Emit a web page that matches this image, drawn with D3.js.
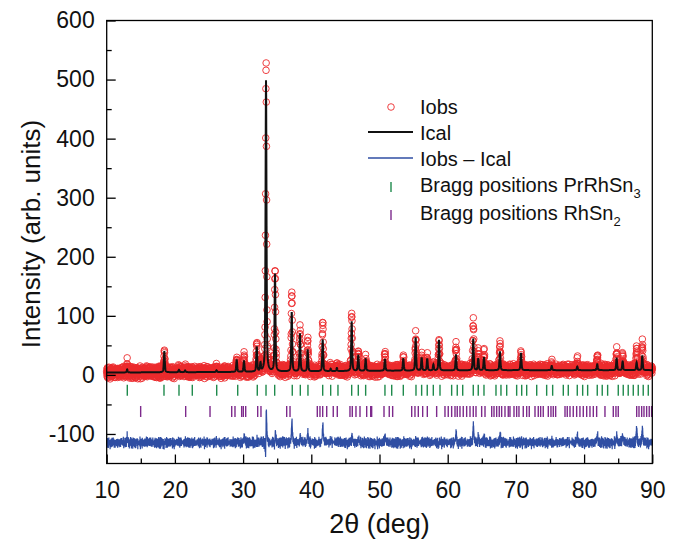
<!DOCTYPE html>
<html lang="en">
<head>
<meta charset="UTF-8">
<title>PrRhSn3 Rietveld refinement</title>
<script src="https://d3js.org/d3.v7.min.js"></script>
<style>
  body { margin: 0; background: #fff; }
  svg { display: block; font-family: Arial, "Liberation Sans", sans-serif; }
</style>
</head>
<body>
<script>
// ---- data ----
const xTicks = [10, 20, 30, 40, 50, 60, 70, 80, 90];
const yTicks = [-100, 0, 100, 200, 300, 400, 500, 600];

// reflections seen in the pattern: 2theta, calculated height, observed top
const peakPos  = [13.0, 18.45, 20.6, 21.5, 26.1, 29.06, 30.13, 32.0, 32.55, 33.36, 34.68, 37.13, 38.34, 39.47, 41.67, 42.84, 43.75, 45.92, 46.89, 47.97, 50.8, 53.49, 55.3, 56.18, 57.0, 57.9, 58.72, 61.21, 63.75, 64.48, 65.32, 67.66, 70.75, 75.25, 79.0, 81.93, 84.77, 85.65, 87.7, 88.53];
const peakCalc = [5, 35, 4, 3, 3, 21, 18, 42, 14, 493, 165, 100, 64, 36, 53, 4, 5, 84, 26, 20, 20, 20, 56, 22, 20, 10, 52, 26, 53, 20, 22, 32, 28, 7, 6, 10, 20, 15, 13, 24];
const peakObs  = [14, 34, 6, 5, 6, 22, 28, 46, 17, 522, 175, 136, 72, 52, 82, 7, 9, 95, 32, 20, 29, 20, 58, 25, 23, 11, 50, 42, 82, 31, 30, 44, 27, 9, 15, 24, 31, 27, 37, 46];

const bgAngle = [10, 30, 50, 70, 90];
const bgLevel = [4, 5, 7, 8, 8];

// scatter of the observed counts about the fit (arb. units)
const noiseA = [3, -5, 6, -2, 0, 4, -6, 2, 5, -3, -1, 6, -4, 1, -6, 3, 5, -2, -5, 0, 4, -3, 6, -1, 2, -6, 1, 5, -4, 3, -2, 0, 6, -5, 2, -1, 4];
const noiseB = [-2, 4, 0, -5, 3, 5, -3, 1, -4, 6, -1, 2, -6, 4, 0, -3, 5, -2, 3, -5, 1, 6, -4, 2, -1, -6, 3, 0, 5, -2, 4, -4, 1, -3, 6, -1, 2, -5, 0, 3, -6, 5, -2, 1, 4, -3, 0];

const braggPrRhSn3 = [13.02, 18.40, 20.60, 22.55, 26.13, 29.21, 32.08, 33.36, 34.63, 37.21, 38.39, 39.51, 41.67, 42.84, 43.91, 45.92, 46.89, 47.97, 50.80, 51.79, 53.49, 55.35, 56.18, 57.00, 57.89, 58.87, 60.58, 61.40, 62.20, 63.75, 64.48, 65.32, 67.08, 67.81, 68.65, 70.11, 70.85, 71.58, 73.05, 74.51, 75.39, 76.95, 77.68, 79.00, 79.79, 80.52, 81.93, 82.66, 83.45, 85.01, 85.74, 86.47, 87.21, 87.94, 88.67, 89.41];
const braggRhSn2 = [14.98, 21.58, 25.15, 28.33, 28.81, 29.79, 30.03, 30.38, 32.14, 32.62, 36.39, 36.88, 40.88, 41.27, 41.67, 42.26, 43.22, 43.81, 45.67, 46.01, 46.55, 47.14, 48.12, 48.71, 48.85, 50.66, 51.43, 51.93, 54.72, 55.20, 55.69, 56.33, 57.01, 58.38, 59.60, 60.08, 60.58, 61.07, 61.40, 61.80, 62.28, 62.78, 63.27, 63.75, 64.15, 64.98, 65.47, 66.45, 66.79, 67.18, 67.56, 67.91, 68.40, 68.88, 69.13, 69.72, 70.11, 70.45, 71.08, 71.58, 71.96, 72.80, 73.28, 73.63, 74.01, 74.75, 75.14, 75.48, 75.83, 77.20, 77.53, 77.93, 78.41, 78.91, 79.39, 79.88, 80.38, 80.86, 81.35, 81.84, 83.06, 84.28, 84.67, 85.01, 87.71, 88.05, 88.44, 88.78, 89.17, 89.55, 89.90];

const diffOffset = -115;
const braggRowPr = -26;
const braggRowRh = -62;

// ---- profile of the pattern from the peak list ----
const step = 0.02, fwhm = 0.16, eta = 0.5;
const bg = d3.scaleLinear().domain(bgAngle).range(bgLevel);
function pv(dx) {
  const g = Math.exp(-4 * Math.LN2 * dx * dx / (fwhm * fwhm));
  const l = 1 / (1 + 4 * dx * dx / (fwhm * fwhm));
  return eta * l + (1 - eta) * g;
}
const pattern = d3.range(0, Math.round(80 / step) + 1).map(i => {
  const t = 10 + i * step;
  let calc = bg(t), obs = bg(t);
  peakPos.forEach((p, k) => {
    calc += peakCalc[k] * pv(t - p);
    obs += peakObs[k] * pv(t - p - 0.008);
  });
  obs += 1.0 * noiseA[i % noiseA.length] + 0.8 * noiseB[i % noiseB.length];
  return { t, calc, obs, diff: obs - calc + diffOffset };
});

// ---- chart ----
const W = 679, H = 539;
const x = d3.scaleLinear().domain([10, 90]).range([106.7, 652.3]);
const y = d3.scaleLinear().domain([-150, 600]).range([463.5, 20.5]);

const svg = d3.select("body").append("svg").attr("width", W).attr("height", H);

const plot = svg.append("g");

// observed points
plot.append("g").selectAll("circle")
  .data(pattern)
  .join("circle")
  .attr("cx", d => x(d.t))
  .attr("cy", d => y(d.obs))
  .attr("r", 3.3)
  .attr("fill", "none")
  .attr("stroke", "#ec2a2d")
  .attr("stroke-width", 0.9);

// calculated profile
plot.append("path")
  .datum(pattern)
  .attr("fill", "none")
  .attr("stroke", "#111")
  .attr("stroke-width", 2)
  .attr("d", d3.line().x(d => x(d.t)).y(d => y(d.calc)));

// difference
plot.append("path")
  .datum(pattern)
  .attr("fill", "none")
  .attr("stroke", "#2f4ea3")
  .attr("stroke-width", 1.2)
  .attr("d", d3.line().x(d => x(d.t)).y(d => y(d.diff)));

// bragg markers
function braggRow(list, row, color) {
  plot.append("g").selectAll("line")
    .data(list)
    .join("line")
    .attr("x1", d => x(d)).attr("x2", d => x(d))
    .attr("y1", y(row) - 5.5).attr("y2", y(row) + 5.5)
    .attr("stroke", color)
    .attr("stroke-width", 1.4);
}
braggRow(braggPrRhSn3, braggRowPr, "#1f8a4c");
braggRow(braggRhSn2, braggRowRh, "#7d2a8c");

// frame
svg.append("rect")
  .attr("x", x(10)).attr("y", y(600))
  .attr("width", x(90) - x(10)).attr("height", y(-150) - y(600))
  .attr("fill", "none").attr("stroke", "#000").attr("stroke-width", 1.3);

// axes
const fmt = d => String(d);
svg.append("g").attr("transform", `translate(0,${y(-150)})`)
  .call(d3.axisBottom(x).tickValues(xTicks).tickFormat(fmt).tickSizeInner(-9).tickSizeOuter(0).tickPadding(18));
svg.append("g").attr("transform", `translate(0,${y(-150)})`)
  .call(d3.axisBottom(x).tickValues(d3.range(15, 90, 10)).tickFormat("").tickSizeInner(-5).tickSizeOuter(0));
svg.append("g").attr("transform", `translate(${x(10)},0)`)
  .call(d3.axisLeft(y).tickValues(yTicks).tickFormat(fmt).tickSizeInner(-9).tickSizeOuter(0).tickPadding(12));
svg.append("g").attr("transform", `translate(${x(10)},0)`)
  .call(d3.axisLeft(y).tickValues(d3.range(-50, 600, 100)).tickFormat("").tickSizeInner(-5).tickSizeOuter(0));

svg.selectAll(".domain").remove();
svg.selectAll(".tick line").attr("stroke", "#000").attr("stroke-width", 1.3);
svg.selectAll(".tick text")
  .attr("font-family", "Arial, 'Liberation Sans', sans-serif")
  .attr("font-size", 23)
  .attr("fill", "#111");

// axis titles
svg.append("text")
  .attr("x", (x(10) + x(90)) / 2).attr("y", 533)
  .attr("text-anchor", "middle")
  .attr("font-size", 27)
  .attr("fill", "#111")
  .text("2θ (deg)");
svg.append("text")
  .attr("transform", `translate(40,234) rotate(-90)`)
  .attr("text-anchor", "middle")
  .attr("font-size", 26)
  .attr("fill", "#111")
  .text("Intensity (arb. units)");

// legend
const lg = svg.append("g").attr("font-size", 20).attr("fill", "#111");
const lx = 420, sx = 391;
lg.append("circle").attr("cx", sx).attr("cy", 107).attr("r", 3.3)
  .attr("fill", "none").attr("stroke", "#ec2a2d").attr("stroke-width", 0.9);
lg.append("text").attr("x", lx).attr("y", 114).text("Iobs");
lg.append("line").attr("x1", 368).attr("x2", 413).attr("y1", 132).attr("y2", 132)
  .attr("stroke", "#111").attr("stroke-width", 2);
lg.append("text").attr("x", lx).attr("y", 140).text("Ical");
lg.append("line").attr("x1", 368).attr("x2", 413).attr("y1", 158).attr("y2", 158)
  .attr("stroke", "#2f4ea3").attr("stroke-width", 1.4);
lg.append("text").attr("x", lx).attr("y", 166).text("Iobs \u2013 Ical");
lg.append("line").attr("x1", sx).attr("x2", sx).attr("y1", 182).attr("y2", 192)
  .attr("stroke", "#1f8a4c").attr("stroke-width", 1.4);
const t1 = lg.append("text").attr("x", lx).attr("y", 192);
t1.append("tspan").text("Bragg positions PrRhSn");
t1.append("tspan").attr("font-size", 13).attr("dy", 6).text("3");
lg.append("line").attr("x1", sx).attr("x2", sx).attr("y1", 210).attr("y2", 220)
  .attr("stroke", "#7d2a8c").attr("stroke-width", 1.4);
const t2 = lg.append("text").attr("x", lx).attr("y", 220);
t2.append("tspan").text("Bragg positions RhSn");
t2.append("tspan").attr("font-size", 13).attr("dy", 6).text("2");
</script>
</body>
</html>
